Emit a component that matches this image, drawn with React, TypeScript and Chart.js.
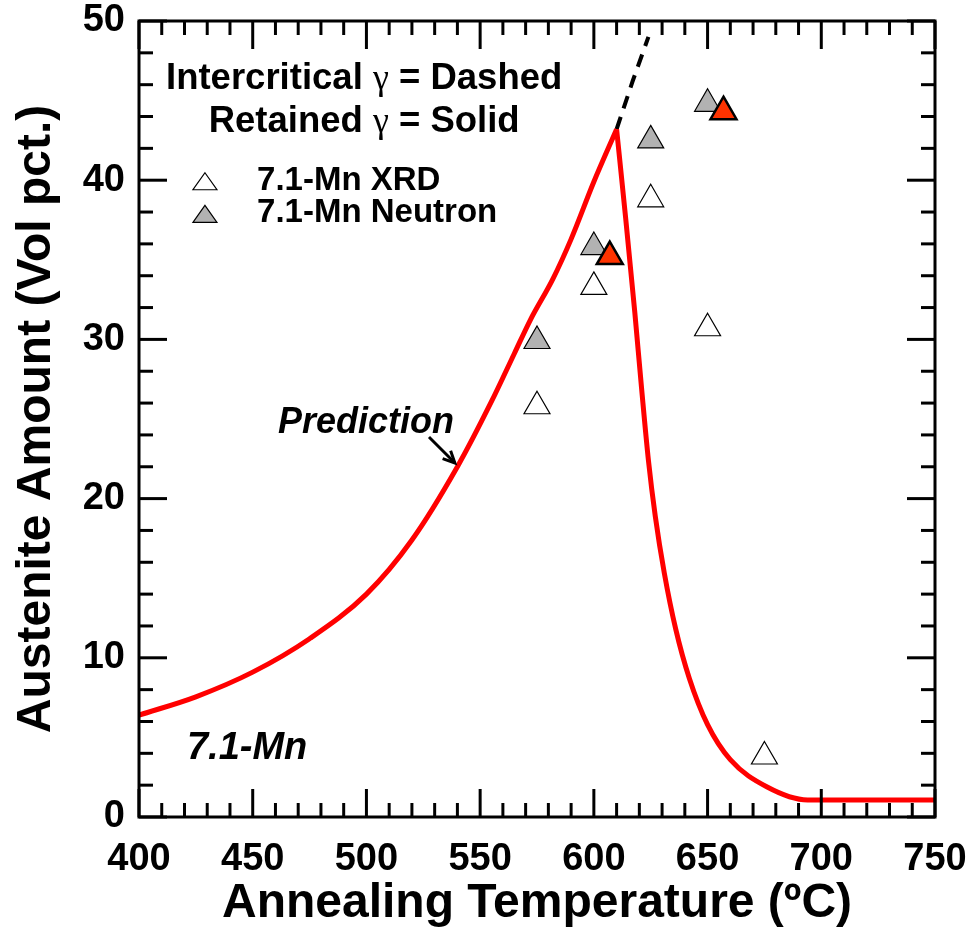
import React, { useEffect, useRef } from 'react';
import { Chart, registerables } from 'chart.js';

Chart.register(...registerables);

// ---- Data ----
const predRiseTemps = [400, 425, 450, 475, 500, 520, 540, 555, 565, 572, 582, 590, 600, 610];
const predRiseValues = [6.4, 7.55, 9.1, 11.2, 14.0, 17.4, 22.0, 26.1, 29.1, 31.2, 33.8, 36.3, 39.9, 43.2];
const predFallTemps = [610, 614, 618, 621, 624, 627, 631, 636, 642, 650, 660, 676, 694, 750];
const predFallValues = [43.2, 37.6, 31.7, 26.9, 22.4, 18.9, 15.3, 11.8, 8.7, 5.8, 3.6, 1.9, 1.07, 1.07];
const interTemps = [610, 617, 624];
const interValues = [43.2, 46.2, 49.0];
const xrdTemps = [575, 600, 625, 650, 675];
const xrdValues = [25.8, 33.3, 38.8, 30.7, 3.8];
const neutronTemps = [575, 600, 625, 650];
const neutronValues = [29.9, 35.8, 42.5, 44.8];
const redTemps = [607, 657];
const redValues = [35.2, 44.3];

const xTickLabels = [400, 450, 500, 550, 600, 650, 700, 750];
const yTickLabels = [0, 10, 20, 30, 40, 50];
const X_MINOR = 10;
const Y_MINOR = 2;

const legendLine1 = ['Intercritical ', 'γ', ' = Dashed'];
const legendLine2 = ['Retained ', 'γ', ' = Solid'];
const legendXrd = '7.1-Mn XRD';
const legendNeutron = '7.1-Mn Neutron';
const predictionLabel = 'Prediction';
const alloyLabel = '7.1-Mn';

const SANS = '"Liberation Sans", Arial, Helvetica, sans-serif';
const SERIF = '"Liberation Serif", "DejaVu Serif", serif';

const pts = (xs: number[], ys: number[]) => xs.map((v, i) => ({ x: v, y: ys[i] }));

const decorPlugin = {
  id: 'decor',
  afterDraw(chart: any) {
    const { ctx, chartArea: a, scales } = chart;
    const xs = scales.x;
    const ys = scales.y;
    const X = (v: number) => xs.getPixelForValue(v);
    const Y = (v: number) => ys.getPixelForValue(v);
    ctx.save();
    ctx.strokeStyle = '#000';
    ctx.lineWidth = 3;
    ctx.lineCap = 'butt';
    const seg = (x1: number, y1: number, x2: number, y2: number) => {
      ctx.beginPath();
      ctx.moveTo(x1, y1);
      ctx.lineTo(x2, y2);
      ctx.stroke();
    };
    // ticks (inward, all four sides)
    const xMin = xTickLabels[0];
    const xMax = xTickLabels[xTickLabels.length - 1];
    for (let v = xMin; v <= xMax; v += X_MINOR) {
      const major = xTickLabels.includes(v);
      const len = major ? 28 : 14;
      const p = X(v);
      seg(p, a.bottom, p, a.bottom - len);
      seg(p, a.top, p, a.top + len);
    }
    const yMin = yTickLabels[0];
    const yMax = yTickLabels[yTickLabels.length - 1];
    for (let v = yMin; v <= yMax; v += Y_MINOR) {
      const major = yTickLabels.includes(v);
      const len = major ? 28 : 14;
      const p = Y(v);
      seg(a.left, p, a.left + len, p);
      seg(a.right, p, a.right - len, p);
    }
    // frame
    ctx.strokeRect(a.left, a.top, a.right - a.left, a.bottom - a.top);

    // legend block
    ctx.fillStyle = '#000';
    ctx.textBaseline = 'alphabetic';
    const mainFont = `bold 36.5px ${SANS}`;
    const gammaFont = `36px ${SERIF}`;
    const drawMixed = (parts: string[], cx: number, base: number) => {
      const fonts = parts.map((_, i) => (i === 1 ? gammaFont : mainFont));
      let total = 0;
      const widths = parts.map((t, i) => {
        ctx.font = fonts[i];
        const w = ctx.measureText(t).width;
        total += w;
        return w;
      });
      let xx = cx - total / 2;
      ctx.textAlign = 'left';
      parts.forEach((t, i) => {
        ctx.font = fonts[i];
        ctx.fillText(t, xx, base);
        xx += widths[i];
      });
    };
    drawMixed(legendLine1, X(499), Y(45.75));
    drawMixed(legendLine2, X(499), Y(43.05));

    const tri = (cx: number, base: number, fill: string) => {
      const w = 24;
      const h = 17;
      ctx.beginPath();
      ctx.moveTo(cx, base - h);
      ctx.lineTo(cx + w / 2, base);
      ctx.lineTo(cx - w / 2, base);
      ctx.closePath();
      ctx.fillStyle = fill;
      ctx.fill();
      ctx.lineWidth = 1.2;
      ctx.strokeStyle = '#000';
      ctx.stroke();
    };
    tri(X(429), Y(39.4), '#ffffff');
    tri(X(429), Y(37.35), '#b2b2b2');
    ctx.fillStyle = '#000';
    ctx.font = `bold 33px ${SANS}`;
    ctx.textAlign = 'left';
    ctx.fillText(legendXrd, X(451.9), Y(39.4));
    ctx.fillText(legendNeutron, X(451.9), Y(37.35));

    // annotations
    ctx.font = `italic bold 36px ${SANS}`;
    ctx.fillText(predictionLabel, X(461.1), Y(24.1));
    ctx.font = `italic bold 38px ${SANS}`;
    ctx.fillText(alloyLabel, X(421.1), Y(3.64));

    // arrow
    const ax1 = X(527.5), ay1 = Y(23.87), ax2 = X(538.9), ay2 = Y(22.24);
    ctx.lineWidth = 3;
    ctx.strokeStyle = '#000';
    seg(ax1, ay1, ax2, ay2);
    const ang = Math.atan2(ay2 - ay1, ax2 - ax1);
    const hl = 13;
    ctx.beginPath();
    ctx.moveTo(ax2 + Math.cos(ang + Math.PI - 0.45) * hl, ay2 + Math.sin(ang + Math.PI - 0.45) * hl);
    ctx.lineTo(ax2, ay2);
    ctx.lineTo(ax2 + Math.cos(ang + Math.PI + 0.45) * hl, ay2 + Math.sin(ang + Math.PI + 0.45) * hl);
    ctx.stroke();
    ctx.restore();
  },
};

export default function App() {
  const ref = useRef<HTMLCanvasElement | null>(null);
  useEffect(() => {
    if (!ref.current) return;
    const chart = new Chart(ref.current, {
      type: 'line',
      data: {
        datasets: [
          {
            label: 'Intercritical (dashed)',
            data: pts(interTemps, interValues),
            borderColor: '#000000',
            borderWidth: 4,
            borderDash: [13, 9],
            pointRadius: 0,
            fill: false,
            order: 10,
          },
          {
            label: 'Prediction rise',
            data: pts(predRiseTemps, predRiseValues),
            borderColor: '#ff0000',
            borderWidth: 5,
            pointRadius: 0,
            fill: false,
            cubicInterpolationMode: 'monotone',
            order: 9,
          },
          {
            label: 'Prediction fall',
            data: pts(predFallTemps, predFallValues),
            borderColor: '#ff0000',
            borderWidth: 5,
            pointRadius: 0,
            fill: false,
            cubicInterpolationMode: 'monotone',
            order: 9,
          },
          {
            label: '7.1-Mn XRD',
            data: pts(xrdTemps, xrdValues),
            showLine: false,
            pointStyle: 'triangle',
            pointRadius: 15,
            backgroundColor: '#ffffff',
            borderColor: '#000000',
            borderWidth: 1.2,
            order: 3,
          },
          {
            label: '7.1-Mn Neutron',
            data: pts(neutronTemps, neutronValues),
            showLine: false,
            pointStyle: 'triangle',
            pointRadius: 15,
            backgroundColor: '#b2b2b2',
            borderColor: '#000000',
            borderWidth: 1.2,
            order: 2,
          },
          {
            label: 'Highlighted',
            data: pts(redTemps, redValues),
            showLine: false,
            pointStyle: 'triangle',
            pointRadius: 15,
            backgroundColor: '#ff3300',
            borderColor: '#000000',
            borderWidth: 2.5,
            order: 1,
          },
        ],
      },
      options: {
        animation: false,
        responsive: false,
        events: [],
        layout: { padding: { left: 0, top: 21, right: 36, bottom: 0 } },
        plugins: { legend: { display: false }, tooltip: { enabled: false } },
        scales: {
          x: {
            type: 'linear',
            min: 400,
            max: 750,
            afterBuildTicks: (s: any) => {
              s.ticks = xTickLabels.map((v) => ({ value: v }));
            },
            afterFit: (s: any) => {
              s.height = 116;
              s.paddingLeft = 0;
              s.paddingRight = 0;
            },
            grid: { display: false, drawTicks: false },
            border: { display: false },
            ticks: {
              color: '#000',
              padding: 20,
              autoSkip: false,
              maxRotation: 0,
              font: { family: SANS, size: 38, weight: 'bold' },
            },
            title: {
              display: true,
              text: 'Annealing Temperature (ºC)',
              color: '#000',
              font: { family: SANS, size: 48, weight: 'bold' },
              padding: { top: 0, bottom: 0 },
            },
          },
          y: {
            type: 'linear',
            min: 0,
            max: 50,
            afterBuildTicks: (s: any) => {
              s.ticks = yTickLabels.map((v) => ({ value: v }));
            },
            afterFit: (s: any) => {
              s.width = 139;
              s.paddingTop = 0;
              s.paddingBottom = 0;
            },
            grid: { display: false, drawTicks: false },
            border: { display: false },
            ticks: {
              color: '#000',
              padding: 14,
              autoSkip: false,
              font: { family: SANS, size: 38, weight: 'bold' },
            },
            title: {
              display: true,
              text: 'Austenite Amount (Vol pct.)',
              color: '#000',
              font: { family: SANS, size: 48, weight: 'bold' },
              padding: { top: 8, bottom: 0 },
            },
          },
        },
      },
      plugins: [decorPlugin],
    } as any);
    return () => chart.destroy();
  }, []);

  return (
    <div style={{ position: 'fixed', left: 0, top: 0, width: 971, height: 933, background: '#fff' }}>
      <canvas ref={ref} width={971} height={933} style={{ display: 'block' }} />
    </div>
  );
}
